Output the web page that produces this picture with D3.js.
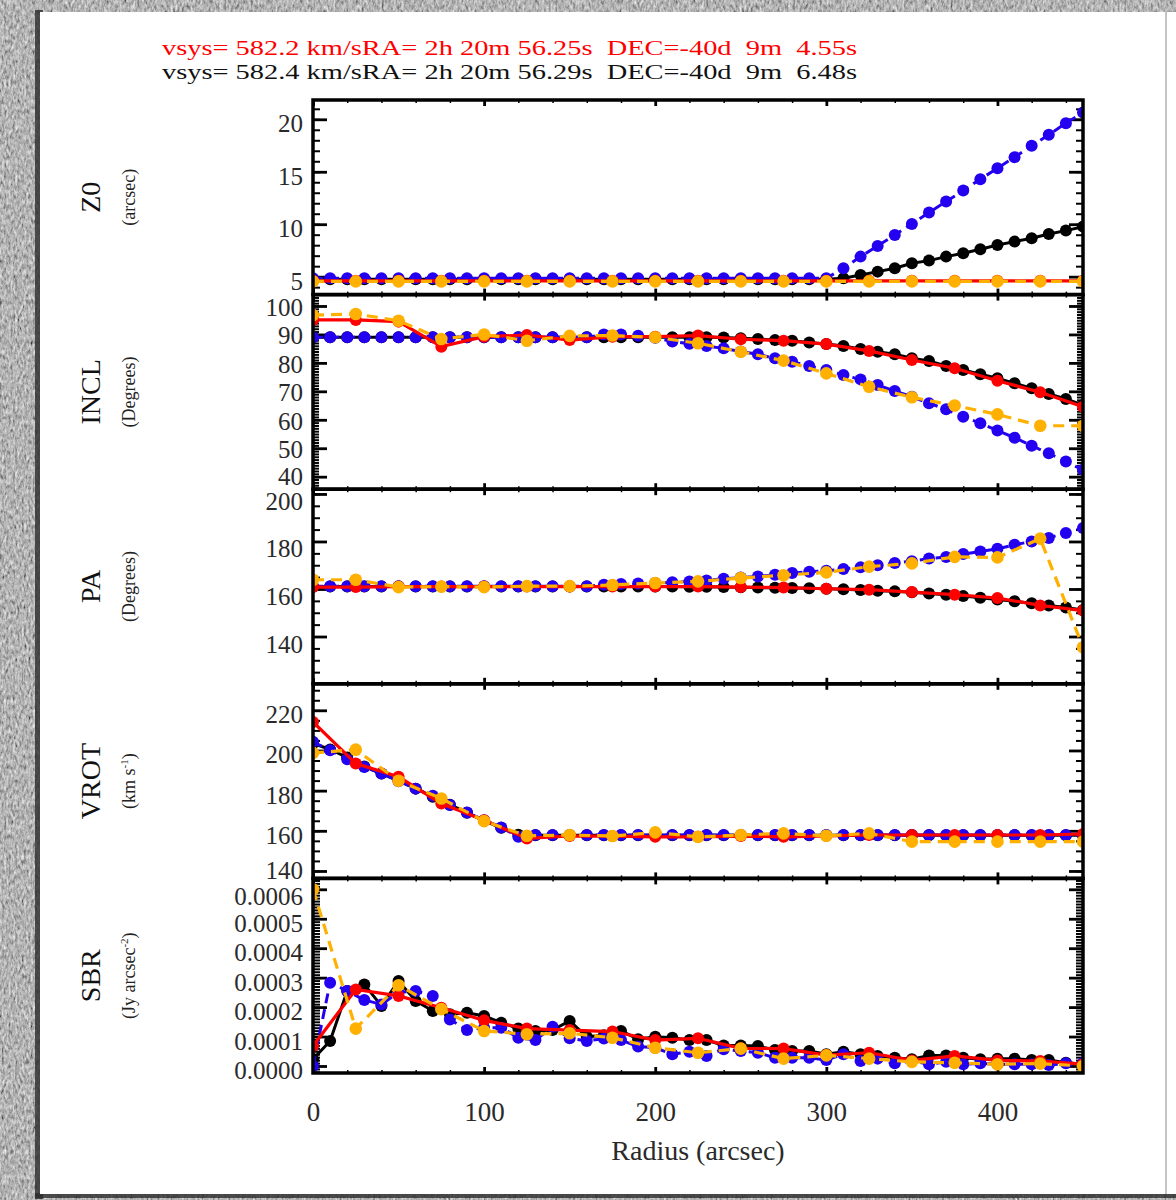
<!DOCTYPE html>
<html lang="en">
<head>
<meta charset="UTF-8">
<title>Tilted ring fit parameters</title>
<script src="https://d3js.org/d3.v7.min.js"></script>
<style>
  body { margin: 0; background: #fff; }
  svg text { font-family: "Liberation Serif", "DejaVu Serif", serif; }
</style>
</head>
<body>
<div id="chart"></div>
<script>
// ---- data ----
const radii10 = [0,10,20,30,40,50,60,70,80,90,100,110,120,130,140,150,160,170,180,190,200,210,220,230,240,
  250,260,270,280,290,300,310,320,330,340,350,360,370,380,390,400,410,420,430,440,450];
const radii25 = [0,25,50,75,100,125,150,175,200,225,250,275,300,325,350,375,400,425,450];

const z0Black = [4.75,4.75,4.75,4.75,4.75,4.75,4.75,4.75,4.75,4.75,4.75,4.75,4.75,4.75,4.75,4.75,4.75,4.75,4.75,4.75,
  4.75,4.75,4.75,4.75,4.75,4.75,4.75,4.75,4.75,4.75,4.75,4.85,5.16,5.48,5.80,6.27,6.53,6.91,7.23,7.61,8.02,8.34,8.66,9.07,9.39,9.77];
const z0Blue = [4.85,4.85,4.85,4.85,4.85,4.85,4.85,4.85,4.85,4.85,4.85,4.85,4.85,4.85,4.85,4.85,4.85,4.85,4.85,4.85,
  4.85,4.85,4.85,4.85,4.85,4.85,4.85,4.85,4.85,4.85,4.85,5.80,6.91,7.93,8.98,10.03,11.11,12.16,13.21,14.29,15.34,16.39,17.47,18.52,19.63,20.64];
const z0Red = [4.6,4.6,4.6,4.6,4.6,4.6,4.6,4.6,4.6,4.6,4.6,4.6,4.6,4.6,4.6,4.6,4.6,4.6,4.6];
const z0Orange = [4.55,4.55,4.55,4.55,4.55,4.55,4.55,4.55,4.55,4.55,4.55,4.55,4.55,4.55,4.55,4.55,4.55,4.55,4.55];

const inclBlack = [89,89,89,89,89,89,89,89,89,89,89,89,89,89,89,89,89,89,89,89,89,89,89,89,
  88.9,88.7,88.4,88.0,87.8,87.2,86.6,85.9,84.9,83.9,83.0,81.6,80.7,78.9,77.5,76.0,74.6,72.8,71.1,69.1,67.3,65.2];
const inclBlue = [89,89,89,89,89,89,89,89,89,89,89,89,89,89,89,89,89,90.0,90.0,89.5,88.8,87.5,86.7,85.9,
  85.1,84.0,83.0,81.6,80.4,78.9,77.5,75.7,74.2,72.2,70.1,68.1,65.8,63.7,61.1,58.8,56.2,53.7,50.9,48.2,45.3,42.4];
const inclRed = [95.1,95.1,94.5,85.7,89.2,89.8,88.0,89.2,89.2,89.6,88.3,87.8,86.6,84.2,81.0,78.1,73.7,69.7,64.6];
const inclOrange = [96.8,97.2,94.8,88.4,90.0,87.8,89.5,89.6,89.0,86.9,83.9,80.8,76.3,71.6,67.9,65.0,61.9,57.9,57.9];

const paBlack = [161,161,161,161,161,161,161,161,161,161,161,161,161,161,161,161,161,161,161,161,
  161.0,161.0,160.9,160.9,160.8,160.7,160.6,160.5,160.4,160.3,160.1,159.9,159.6,159.3,159.0,158.6,158.1,157.6,157.0,156.3,155.6,154.8,154.0,153.1,152.2,151.2];
const paBlue = [161.2,161.2,161.2,161.2,161.2,161.2,161.2,161.2,161.2,161.2,161.2,161.2,161.2,161.2,161.2,161.2,161.2,
  161.8,162.1,162.3,162.5,162.8,163.2,163.6,164.3,164.8,165.3,166.0,166.7,167.3,167.7,168.4,169.1,170.0,170.9,171.7,172.8,173.5,174.7,175.8,176.9,178.6,180.0,181.5,183.6,185.7];
const paRed = [160.8,160.8,161.0,161.0,161.0,161.0,161.0,161.0,161.0,161.0,160.8,160.6,160.1,159.7,158.7,157.6,156.2,153.1,150.9];
const paOrange = [163.9,163.9,160.8,161.0,160.8,161.2,161.2,161.7,162.5,163.2,164.6,165.8,167.0,169.4,170.8,173.5,173.3,181.2,135.5];

const vrotBlack = [203.5,200.5,196.5,192.0,188.5,185.0,181.0,177.0,173.0,169.0,165.0,161.5,158.0,
  157.8,157.8,157.8,157.8,157.8,157.8,157.8,157.8,157.8,157.8,157.8,157.8,157.8,157.8,157.8,157.8,157.8,157.8,157.8,157.8,157.8,157.8,157.8,157.8,157.8,157.8,157.8,157.8,157.8,157.8,157.8,157.8,157.8];
const vrotBlue = [204.3,200.1,195.6,191.8,188.5,184.7,181.0,177.4,172.8,169.1,165.3,161.7,157.0,
  157.9,157.9,157.9,157.9,157.9,157.9,157.9,157.9,157.9,157.9,157.9,157.9,157.9,157.9,157.9,157.9,157.9,157.9,157.9,157.9,157.9,157.9,157.9,157.9,157.9,157.9,157.9,157.9,157.9,157.9,157.9,157.9,157.9];
const vrotRed = [214.2,193.5,186.9,173.6,165.3,156.2,157.4,157.4,157.0,157.0,157.4,157.0,157.5,157.9,157.9,157.9,157.9,157.9,158.4];
const vrotOrange = [198.8,200.4,184.9,176.1,164.8,157.5,157.9,157.4,159.2,157.0,157.9,158.7,157.5,158.7,154.6,154.6,154.6,154.6,154.6];

// SBR in units of 1e-4 Jy arcsec^-2
const sbrBlack = [0.23,0.85,2.55,2.77,2.04,2.89,2.21,1.87,1.76,1.81,1.70,1.47,1.27,1.19,1.22,1.53,0.99,1.04,1.19,0.91,
  0.99,0.96,0.88,0.88,0.70,0.70,0.68,0.54,0.51,0.51,0.40,0.48,0.40,0.34,0.28,0.23,0.36,0.36,0.28,0.23,0.25,0.25,0.20,0.20,0.11,0.06];
const sbrBlue = [0.0,2.83,2.55,2.24,2.09,2.50,2.55,2.38,1.58,1.22,1.30,1.30,0.96,0.88,1.33,0.94,0.85,0.93,0.88,0.66,
  0.62,0.40,0.48,0.34,0.57,0.51,0.45,0.28,0.28,0.28,0.20,0.40,0.17,0.25,0.09,0.17,0.06,0.14,0.06,0.09,0.06,0.06,0.06,0.03,0.09,0.10];
const sbrRed = [0.68,2.60,2.38,1.98,1.55,1.27,1.22,1.17,0.88,0.94,0.60,0.59,0.37,0.45,0.19,0.34,0.19,0.17,0.06];
const sbrOrange = [6.0,1.27,2.74,1.93,1.19,1.08,1.11,0.96,0.62,0.45,0.59,0.25,0.36,0.25,0.14,0.11,0.06,0.08,0.0];

const z0Ticks = [5,10,15,20];
const inclTicks = [40,50,60,70,80,90,100];
const paTicks = [140,160,180,200];
const vrotTicks = [140,160,180,200,220];
const sbrTicks = [0,0.0001,0.0002,0.0003,0.0004,0.0005,0.0006];
const radiusTicks = [0,100,200,300,400];

const headerRed = "vsys= 582.2 km/sRA= 2h 20m 56.25s  DEC=-40d  9m  4.55s";
const headerBlack = "vsys= 582.4 km/sRA= 2h 20m 56.29s  DEC=-40d  9m  6.48s";

// ---- layout ----
const W = 1176, H = 1200;
const left = 313, right = 1083;
const tops = [100, 294.6, 489.2, 683.8, 878.4, 1073];
const serif = "Liberation Serif";

const colBlack = "#000000", colBlue = "#2400f0", colRed = "#ff0000", colOrange = "#ffb000";

const e4 = v => v * 1e-4;

const panels = [
  { title: "Z0", unit: "(arcsec)", domain: [3.29, 21.84], ticks: z0Ticks, minor: 1, minorLen: 7,
    shift: d => 3, fmt: d3.format("d"), series: [z0Black, z0Blue, z0Red, z0Orange] },
  { title: "INCL", unit: "(Degrees)", domain: [35.6, 104.0], ticks: inclTicks, minor: 1, minorLen: 6,
    shift: d => d === 40 ? -2 : 0, fmt: d3.format("d"), series: [inclBlack, inclBlue, inclRed, inclOrange] },
  { title: "PA", unit: "(Degrees)", domain: [120.1, 202.0], ticks: paTicks, minor: 5, minorLen: 7,
    shift: d => 6, fmt: d3.format("d"), series: [paBlack, paBlue, paRed, paOrange] },
  { title: "VROT", unit: "km", domain: [136.3, 233.2], ticks: vrotTicks, minor: 5, minorLen: 7,
    shift: d => d === 140 ? -2 : 3, fmt: d3.format("d"), series: [vrotBlack, vrotBlue, vrotRed, vrotOrange] },
  { title: "SBR", unit: "jy", domain: [-0.0000238, 0.000637], ticks: sbrTicks, minor: 0.00001, minorLen: 7,
    shift: d => d > 0.00055 ? 6 : 3, fmt: d3.format(".4f"),
    series: [sbrBlack.map(e4), sbrBlue.map(e4), sbrRed.map(e4), sbrOrange.map(e4)] }
];

const styles = [
  { radii: radii10, color: colBlack, dash: null, width: 3, r: 6 },
  { radii: radii10, color: colBlue, dash: "10,6", width: 3, r: 6 },
  { radii: radii25, color: colRed, dash: null, width: 3.2, r: 6 },
  { radii: radii25, color: colOrange, dash: "11,7", width: 3.2, r: 6.3 }
];

const x = d3.scaleLinear().domain([0, 450]).range([left, right]);

const svg = d3.select("#chart").append("svg")
  .attr("width", W).attr("height", H);

const defs = svg.append("defs");
const grain = defs.append("filter").attr("id", "grain")
  .attr("x", 0).attr("y", 0).attr("width", "100%").attr("height", "100%");
grain.append("feTurbulence").attr("type", "fractalNoise")
  .attr("baseFrequency", "0.45 0.2").attr("numOctaves", 4).attr("seed", 11);
grain.append("feColorMatrix").attr("type", "matrix")
  .attr("values", "0.5 0.5 0.5 0 -0.3  0.5 0.5 0.5 0 -0.3  0.5 0.5 0.5 0 -0.3  0 0 0 0 1");

// textured backdrop and the white page
svg.append("rect").attr("width", W).attr("height", H).attr("filter", "url(#grain)");
svg.append("rect").attr("x", 35).attr("y", 10).attr("width", 8).attr("height", 1189).attr("fill", "#2c2c2c").attr("opacity", 0.8);
svg.append("rect").attr("x", 35).attr("y", 1193).attr("width", 1141).attr("height", 5).attr("fill", "#2c2c2c").attr("opacity", 0.8);
svg.append("rect").attr("x", 40).attr("y", 12).attr("width", 1136).attr("height", 1182).attr("fill", "#ffffff");
svg.append("line").attr("x1", 1166).attr("x2", 1166).attr("y1", 12).attr("y2", 1194)
  .attr("stroke", "#c4c4c4").attr("stroke-width", 2);

// header
svg.append("text").attr("x", 162).attr("y", 55).attr("fill", colRed).attr("font-family", serif)
  .attr("font-size", 22).attr("textLength", 695).attr("lengthAdjust", "spacingAndGlyphs")
  .style("white-space", "pre").text(headerRed);
svg.append("text").attr("x", 162).attr("y", 79).attr("fill", "#111").attr("font-family", serif)
  .attr("font-size", 22).attr("textLength", 695).attr("lengthAdjust", "spacingAndGlyphs")
  .style("white-space", "pre").text(headerBlack);

panels.forEach((p, i) => {
  const top = tops[i], bottom = tops[i + 1];
  const y = d3.scaleLinear().domain(p.domain).range([bottom, top]);
  const g = svg.append("g");
  const cy = (top + bottom) / 2;

  const minorVals = d3.range(Math.ceil(p.domain[0] / p.minor) * p.minor, p.domain[1], p.minor);

  // y minor ticks, both sides
  g.append("g").attr("transform", `translate(${left},0)`)
    .call(d3.axisLeft(y).tickValues(minorVals).tickSizeInner(-p.minorLen).tickSizeOuter(0).tickFormat(""))
    .call(a => a.select(".domain").remove())
    .call(a => a.selectAll("line").attr("stroke-width", 2));
  g.append("g").attr("transform", `translate(${right},0)`)
    .call(d3.axisRight(y).tickValues(minorVals).tickSizeInner(-p.minorLen).tickSizeOuter(0).tickFormat(""))
    .call(a => a.select(".domain").remove())
    .call(a => a.selectAll("line").attr("stroke-width", 2));

  // y major ticks with labels
  g.append("g").attr("transform", `translate(${left},0)`)
    .call(d3.axisLeft(y).tickValues(p.ticks).tickSizeInner(-14).tickSizeOuter(0).tickPadding(10).tickFormat(p.fmt))
    .call(a => a.select(".domain").remove())
    .call(a => a.selectAll("line").attr("stroke-width", 2.8))
    .call(a => a.selectAll("text").attr("font-size", 25).attr("fill", "#2a2a2a")
      .attr("font-family", serif).attr("dy", "0.38em").attr("y", d => p.shift(d)));
  g.append("g").attr("transform", `translate(${right},0)`)
    .call(d3.axisRight(y).tickValues(p.ticks).tickSizeInner(-14).tickSizeOuter(0).tickFormat(""))
    .call(a => a.select(".domain").remove())
    .call(a => a.selectAll("line").attr("stroke-width", 2.8));

  // x ticks, top and bottom
  const xMinor = d3.range(20, 450, 20).filter(v => v % 100 !== 0);
  [[d3.axisBottom, bottom], [d3.axisTop, top]].forEach(([ax, yy]) => {
    g.append("g").attr("transform", `translate(0,${yy})`)
      .call(ax(x).tickValues(xMinor).tickSizeInner(-3).tickSizeOuter(0).tickFormat(""))
      .call(a => a.select(".domain").remove())
      .call(a => a.selectAll("line").attr("stroke-width", 1.5));
  });
  const isLast = i === panels.length - 1;
  g.append("g").attr("transform", `translate(0,${bottom})`)
    .call(d3.axisBottom(x).tickValues(radiusTicks).tickSizeInner(-6).tickSizeOuter(0)
      .tickPadding(29).tickFormat(isLast ? d3.format("d") : ""))
    .call(a => a.select(".domain").remove())
    .call(a => a.selectAll("line").attr("stroke-width", 2.8))
    .call(a => a.selectAll("text").attr("font-size", 27).attr("fill", "#2a2a2a").attr("font-family", serif));
  g.append("g").attr("transform", `translate(0,${top})`)
    .call(d3.axisTop(x).tickValues(radiusTicks).tickSizeInner(-6).tickSizeOuter(0).tickFormat(""))
    .call(a => a.select(".domain").remove())
    .call(a => a.selectAll("line").attr("stroke-width", 2.8));

  // data
  const clipId = "clip" + i;
  defs.append("clipPath").attr("id", clipId).append("rect")
    .attr("x", left).attr("y", top).attr("width", right - left).attr("height", bottom - top);
  const data = g.append("g").attr("clip-path", `url(#${clipId})`);
  p.series.forEach((vals, k) => {
    const s = styles[k];
    const pts = vals.map((v, j) => [s.radii[j], v]);
    data.append("path").datum(pts)
      .attr("fill", "none").attr("stroke", s.color).attr("stroke-width", s.width)
      .attr("stroke-dasharray", s.dash)
      .attr("d", d3.line().x(d => x(d[0])).y(d => y(d[1])));
    data.selectAll(null).data(pts).enter().append("circle")
      .attr("cx", d => x(d[0])).attr("cy", d => y(d[1])).attr("r", s.r)
      .attr("fill", s.color);
  });

  // frame
  g.append("rect").attr("x", left).attr("y", top).attr("width", right - left).attr("height", bottom - top)
    .attr("fill", "none").attr("stroke", "#000").attr("stroke-width", 3.5);

  // axis titles
  svg.append("text").attr("transform", `translate(100,${cy}) rotate(-90)`)
    .attr("text-anchor", "middle").attr("font-size", 28).attr("fill", "#111").text(p.title);
  const unit = svg.append("text").attr("transform", `translate(135,${cy}) rotate(-90)`)
    .attr("text-anchor", "middle").attr("font-size", 18).attr("fill", "#222");
  if (p.unit === "km") {
    unit.append("tspan").text("(km s");
    unit.append("tspan").attr("font-size", 11).attr("dy", -7).text("-1");
    unit.append("tspan").attr("dy", 7).text(")");
  } else if (p.unit === "jy") {
    unit.append("tspan").text("(Jy arcsec");
    unit.append("tspan").attr("font-size", 11).attr("dy", -7).text("-2");
    unit.append("tspan").attr("dy", 7).text(")");
  } else {
    unit.text(p.unit);
  }
});

svg.append("text").attr("x", 698).attr("y", 1160).attr("text-anchor", "middle")
  .attr("font-size", 28).attr("fill", "#2a2a2a").text("Radius (arcsec)");
</script>
</body>
</html>
